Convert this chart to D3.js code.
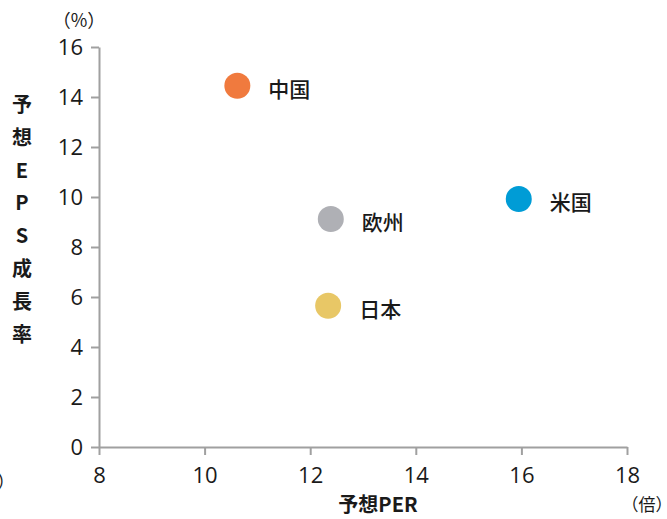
<!DOCTYPE html>
<html>
<head>
<meta charset="utf-8">
<script src="https://cdn.jsdelivr.net/npm/d3@7"></script>
<style>
  body { margin: 0; background: #fff; }
  svg text { font-family: "Open Sans", "Noto Sans CJK JP", sans-serif; fill: #1a1a1a; }
  .jp { font-family: "Noto Sans CJK JP", sans-serif; }
</style>
</head>
<body>
<svg id="chart" width="667" height="519"></svg>
<script>
var regions = ["中国", "欧州", "日本", "米国"];
var per = [10.62, 12.39, 12.34, 15.95];
var epsGrowth = [14.45, 9.12, 5.65, 9.92];
var colors = ["#f07a3e", "#afb0b5", "#e8c766", "#009cd6"];
var xTicks = [8, 10, 12, 14, 16, 18];
var yTicks = [0, 2, 4, 6, 8, 10, 12, 14, 16];
var yTitle = ["予", "想", "E", "P", "S", "成", "長", "率"];

var svg = d3.select("#chart");
var margin = {left: 99, right: 40, top: 47, bottom: 72};

var x = d3.scaleLinear().domain([8, 18]).range([margin.left, margin.left + 528]);
var y = d3.scaleLinear().domain([0, 16]).range([447, 47]);

var axisColor = "#a0a0a0";

// y axis
var gy = svg.append("g")
  .attr("transform", "translate(" + margin.left + ",0)")
  .call(d3.axisLeft(y).tickValues(yTicks).tickSize(8).tickPadding(8).tickSizeOuter(0));
gy.select(".domain").attr("stroke", axisColor).attr("stroke-width", 2);
gy.selectAll(".tick line").attr("stroke", axisColor).attr("stroke-width", 2);
gy.selectAll(".tick text").style("font-size", "22px").attr("fill", "#1a1a1a");

// x axis
var gx = svg.append("g")
  .attr("transform", "translate(0,447)")
  .call(d3.axisBottom(x).tickValues(xTicks).tickSize(8).tickPadding(12).tickSizeOuter(0));
gx.select(".domain").attr("stroke", axisColor).attr("stroke-width", 2);
gx.selectAll(".tick line").attr("stroke", axisColor).attr("stroke-width", 2);
gx.selectAll(".tick text").style("font-size", "22px").attr("fill", "#1a1a1a");

// points
var pts = regions.map(function(r, i) {
  return {name: r, x: per[i], y: epsGrowth[i], color: colors[i]};
});

svg.selectAll("circle.pt")
  .data(pts)
  .enter().append("circle")
  .attr("class", "pt")
  .attr("cx", function(d) { return x(d.x); })
  .attr("cy", function(d) { return y(d.y); })
  .attr("r", 13)
  .attr("fill", function(d) { return d.color; });

svg.selectAll("text.lbl")
  .data(pts)
  .enter().append("text")
  .attr("class", "lbl jp")
  .attr("x", function(d) { return x(d.x) + 31; })
  .attr("y", function(d) { return y(d.y) + 11; })
  .style("font-size", "21px")
  .style("font-weight", "500")
  .text(function(d) { return d.name; });

// axis titles
svg.append("text")
  .attr("class", "jp")
  .attr("x", 378).attr("y", 512)
  .attr("text-anchor", "middle")
  .style("font-size", "20px").style("font-weight", "bold")
  .text("予想PER");

svg.selectAll("text.ytitle")
  .data(yTitle)
  .enter().append("text")
  .attr("class", "ytitle jp")
  .attr("x", 22)
  .attr("y", function(d, i) { return 112 + i * 32.8; })
  .attr("text-anchor", "middle")
  .style("font-size", "20px").style("font-weight", "bold")
  .text(function(d) { return d; });

// units
svg.append("text").attr("class", "jp")
  .attr("x", 79).attr("y", 27).attr("text-anchor", "middle")
  .style("font-size", "18px").text("（%）");
svg.append("text").attr("class", "jp")
  .attr("x", 647).attr("y", 511).attr("text-anchor", "middle")
  .style("font-size", "17px").text("（倍）");
svg.append("text").attr("class", "jp")
  .attr("x", -3).attr("y", 488)
  .style("font-size", "18px").text("）");
</script>
</body>
</html>
